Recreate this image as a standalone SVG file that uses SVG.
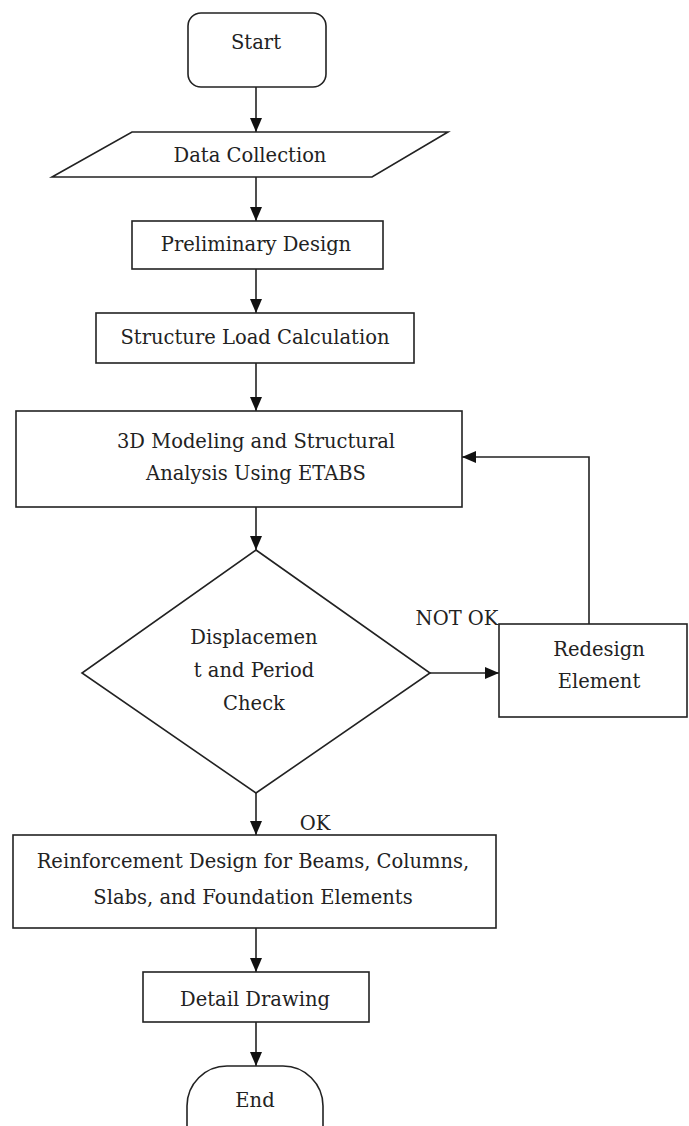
<svg xmlns="http://www.w3.org/2000/svg" width="689" height="1126" viewBox="0 0 689 1126">
<defs>
<style>
.n{fill:#fff;stroke:#222;stroke-width:1.6}
.t{font-family:"DejaVu Serif","Liberation Serif",serif;font-size:19.5px;fill:#222;text-anchor:middle}
.c{fill:none;stroke:#222;stroke-width:1.6}
</style>
<marker id="a" markerWidth="14" markerHeight="12" refX="14" refY="6" orient="auto" markerUnits="userSpaceOnUse">
<path d="M0,0 L14,6 L0,12 Z" fill="#111"/>
</marker>
</defs>
<rect width="689" height="1126" fill="#fff"/>
<g id="connectors">
<line class="c" x1="256" y1="87" x2="256" y2="132" marker-end="url(#a)"/>
<line class="c" x1="256" y1="177" x2="256" y2="221" marker-end="url(#a)"/>
<line class="c" x1="256" y1="269" x2="256" y2="313" marker-end="url(#a)"/>
<line class="c" x1="256" y1="363" x2="256" y2="411" marker-end="url(#a)"/>
<line class="c" x1="256" y1="507" x2="256" y2="550" marker-end="url(#a)"/>
<line class="c" x1="256" y1="793" x2="256" y2="835" marker-end="url(#a)"/>
<line class="c" x1="256" y1="928" x2="256" y2="972" marker-end="url(#a)"/>
<line class="c" x1="256" y1="1022" x2="256" y2="1066" marker-end="url(#a)"/>
<line class="c" x1="430" y1="673" x2="499" y2="673" marker-end="url(#a)"/>
<polyline class="c" points="589,624 589,457 462,457" marker-end="url(#a)"/>
<text class="t" x="457" y="625">NOT OK</text>
<text class="t" x="315" y="830">OK</text>
</g>
<g id="start">
<rect class="n" x="188" y="13" width="138" height="74" rx="13"/>
<text class="t" x="256" y="49">Start</text>
</g>
<g id="data-collection">
<polygon class="n" points="132,132 448,132 372,177 52,177"/>
<text class="t" x="250" y="162">Data Collection</text>
</g>
<g id="preliminary-design">
<rect class="n" x="132" y="221" width="251" height="48"/>
<text class="t" x="256" y="251">Preliminary Design</text>
</g>
<g id="structure-load">
<rect class="n" x="96" y="313" width="318" height="50"/>
<text class="t" x="255" y="344">Structure Load Calculation</text>
</g>
<g id="modeling">
<rect class="n" x="16" y="411" width="446" height="96"/>
<text class="t" x="256" y="448">3D Modeling and Structural</text>
<text class="t" x="256" y="480">Analysis Using ETABS</text>
</g>
<g id="check">
<polygon class="n" points="256,550 430,673 256,793 82,673"/>
<text class="t" x="254" y="644">Displacemen</text>
<text class="t" x="254" y="677">t and Period</text>
<text class="t" x="254" y="710">Check</text>
</g>
<g id="redesign">
<rect class="n" x="499" y="624" width="188" height="93"/>
<text class="t" x="599" y="656">Redesign</text>
<text class="t" x="599" y="688">Element</text>
</g>
<g id="reinforcement">
<rect class="n" x="13" y="835" width="483" height="93"/>
<text class="t" x="253" y="868">Reinforcement Design for Beams, Columns,</text>
<text class="t" x="253" y="904">Slabs, and Foundation Elements</text>
</g>
<g id="detail-drawing">
<rect class="n" x="143" y="972" width="226" height="50"/>
<text class="t" x="255" y="1006">Detail Drawing</text>
</g>
<g id="end">
<rect class="n" x="187" y="1066" width="136" height="100" rx="40"/>
<text class="t" x="255" y="1107">End</text>
</g>
</svg>
